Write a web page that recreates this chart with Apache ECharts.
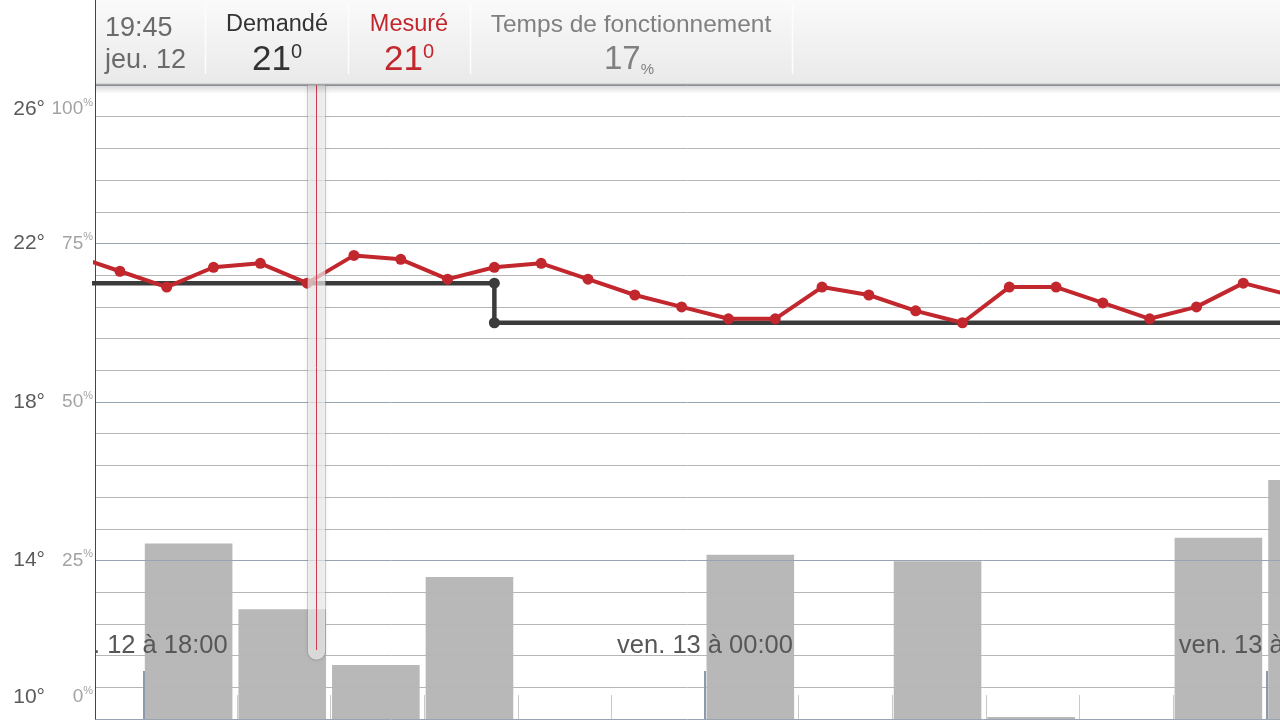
<!DOCTYPE html>
<html><head><meta charset="utf-8">
<script src="https://cdn.jsdelivr.net/npm/echarts@6/dist/echarts.min.js"></script>
<style>html,body{margin:0;padding:0;background:#fff}#c{width:1280px;height:720px}</style>
</head><body><div id="c"></div>
<script>
// Hours counted from jeu. 12 at 00:00
const measuredHours = [17.25,17.75,18.25,18.75,19.25,19.75,20.25,20.75,21.25,21.75,22.25,22.75,23.25,23.75,24.25,24.75,25.25,25.75,26.25,26.75,27.25,27.75,28.25,28.75,29.25,29.75,30.25];
const measuredTemp = [21.7,21.3,20.9,21.4,21.5,21.0,21.7,21.6,21.1,21.4,21.5,21.1,20.7,20.4,20.1,20.1,20.9,20.7,20.3,20.0,20.9,20.9,20.5,20.1,20.4,21.0,20.7];
const setpointHours = [17, 21.75, 21.75, 31];
const setpointTemp = [21, 21, 20, 20];
const runtimeHours = [17,18,19,20,21,22,23,24,25,26,27,28,29,30];
const runtimePct = [0,27.7,17.3,8.5,22.4,0,0,25.9,0,24.9,0.3,0,28.6,37.7];
const hourTicks = [18,19,20,21,22,23,24,25,26,27,28,29,30];
const labelHours = [18,24,30];
const labelTexts = ['jeu. 12 à 18:00','ven. 13 à 00:00','ven. 13 à 06:00'];
const tempTicks = [10,14,18,22,26];
const pctTicks = [0,25,50,75,100];
const cursorHour = 19.84;
const header = {time:'19:45', day:'jeu. 12', reqLabel:'Demandé', req:'21', measLabel:'Mesuré', meas:'21', runLabel:'Temps de fonctionnement', run:'17'};

const FONT = '"Liberation Sans", Arial, sans-serif';
const RED = '#c1272d';
const xMin = 17.484, xMax = 30.142;

const chart = echarts.init(document.getElementById('c'), null, {renderer:'canvas'});

// keep the end labels inside the visible plot: top one pushed down, bottom one pushed up
function shiftLabel(str, v, lo, hi){
  if (v === hi) return '\n\n' + str;
  if (v === lo) return str + '\n{g|}';
  return str;
}

const option = {
  animation: false,
  backgroundColor: '#fff',
  textStyle: {fontFamily: FONT},
  grid: {left: 95, right: 0, top: 85, bottom: 1, containLabel: false, outerBoundsMode: 'none'},
  xAxis: [{
    type: 'value', min: xMin, max: xMax, z: 4,
    axisLine: {show: false}, splitLine: {show: false},
    axisTick: {show: true, inside: true, length: 24, customValues: hourTicks, lineStyle: {color: '#c9c9c9', width: 1}},
    axisLabel: {show: true, inside: true, margin: 60, customValues: labelHours, fontFamily: FONT, fontSize: 25.5, color: '#575757',
      formatter: v => labelTexts[labelHours.indexOf(v)] || ''}
  },{
    type: 'value', min: xMin, max: xMax, z: 4, position: 'bottom',
    axisLine: {show: false}, splitLine: {show: false},
    axisTick: {show: true, inside: true, length: 48, customValues: labelHours, lineStyle: {color: '#8b9bab', width: 2}},
    axisLabel: {show: false}
  }],
  yAxis: [{
    type: 'value', min: 10, max: 26, position: 'left', z: 3,
    axisLine: {show: false}, axisTick: {show: false}, splitLine: {show: false},
    axisLabel: {customValues: tempTicks, margin: 50, align: 'right', lineHeight: 24, fontFamily: FONT,
      formatter: v => shiftLabel('{t|' + v + '°}', v, 10, 26),
      rich: {t: {fontSize: 21, color: '#5a5a5a', lineHeight: 24, fontFamily: FONT}, g: {lineHeight: 44, fontSize: 10}}}
  },{
    type: 'value', min: 0, max: 100, interval: 5, position: 'left', z: 3,
    axisLine: {show: true, lineStyle: {color: '#444', width: 1}},
    axisTick: {show: false},
    splitLine: {show: true, lineStyle: {color: ['#97a5b2','#b6b6b6','#b6b6b6','#b6b6b6','#b6b6b6'], width: 1}},
    axisLabel: {customValues: pctTicks, margin: 2, align: 'right', lineHeight: 24, fontFamily: FONT,
      formatter: v => shiftLabel('{p|' + v + '}{s|%}', v, 0, 100),
      rich: {p: {fontSize: 19, color: '#a3a3a3', lineHeight: 24, fontFamily: FONT},
             s: {fontSize: 11, color: '#a3a3a3', lineHeight: 15, verticalAlign: 'top', fontFamily: FONT},
             g: {lineHeight: 44, fontSize: 10}}}
  }],
  series: [{
    type: 'custom', xAxisIndex: 0, yAxisIndex: 1, z: 2,
    data: runtimeHours.map((h, i) => [h, runtimePct[i]]),
    encode: {x: 0, y: 1},
    renderItem: function(params, api){
      const h = api.value(0), v = api.value(1);
      const p0 = api.coord([h, 0]);
      const p1 = api.coord([h + 1, v]);
      const x0 = p0[0] + 1.5, x1 = p1[0] - 4.5;
      return {type: 'rect', shape: {x: x0, y: p1[1], width: x1 - x0, height: p0[1] - p1[1]},
        style: {fill: '#b8b8b8'}};
    }
  },{
    type: 'line', xAxisIndex: 0, yAxisIndex: 0, z: 6,
    data: setpointHours.map((h, i) => ({value: [h, setpointTemp[i]], symbol: (i === 0 || i === setpointHours.length - 1) ? 'none' : 'circle'})),
    symbolSize: 11, showSymbol: true,
    lineStyle: {color: '#3b3b3b', width: 4.5},
    itemStyle: {color: '#3b3b3b'}
  },{
    type: 'line', xAxisIndex: 0, yAxisIndex: 0, z: 7,
    data: measuredHours.map((h, i) => [h, measuredTemp[i]]),
    symbol: 'circle', symbolSize: 11, showSymbol: true,
    lineStyle: {color: RED, width: 4},
    itemStyle: {color: RED}
  }]
};
chart.setOption(option);

const cx = Math.round(chart.convertToPixel({xAxisIndex: 0}, cursorHour)) + 0.5;

const H = 100;
const graphic = [
  // cover for the part of the first date label that falls left of the plot
  {type: 'rect', z: 40, shape: {x: 0, y: 626, width: 94.5, height: 40}, style: {fill: '#fff'}},
  // cursor
  {type: 'rect', z: 50, shape: {x: cx - 9, y: 70, width: 18, height: 590, r: 9},
    style: {fill: 'rgba(238,238,238,0.7)', stroke: 'rgba(0,0,0,0.16)', lineWidth: 1, shadowBlur: 4, shadowColor: 'rgba(0,0,0,0.14)'}},
  {type: 'line', z: 51, shape: {x1: cx, y1: 85, x2: cx, y2: 650}, style: {stroke: '#cf3a4c', lineWidth: 1}},
  // header
  {type: 'rect', z: H, shape: {x: 95, y: 0, width: 1185, height: 85},
    style: {fill: new echarts.graphic.LinearGradient(0, 0, 0, 1, [{offset: 0, color: '#fafafa'}, {offset: 1, color: '#e9e9e9'}])}},
  {type: 'rect', z: H, shape: {x: 95, y: 85, width: 1185, height: 9},
    style: {fill: new echarts.graphic.LinearGradient(0, 0, 0, 1, [{offset: 0, color: 'rgba(0,0,0,0.16)'}, {offset: 1, color: 'rgba(0,0,0,0)'}])}},
  {type: 'line', z: H, shape: {x1: 95, y1: 84.5, x2: 1280, y2: 84.5}, style: {stroke: '#a3a3a3', lineWidth: 1.5}},
  {type: 'line', z: H, shape: {x1: 95.5, y1: 0, x2: 95.5, y2: 86}, style: {stroke: '#444', lineWidth: 1}},
  ...[205, 348, 470, 792].map(x => ({type: 'line', z: H, shape: {x1: x + 0.5, y1: 4, x2: x + 0.5, y2: 74}, style: {stroke: '#fdfdfd', lineWidth: 1.5}})),
  {type: 'text', z: H + 1, style: {x: 105, y: 29, text: header.time, font: '27px ' + FONT, fill: '#6a6a6a', align: 'left', verticalAlign: 'middle'}},
  {type: 'text', z: H + 1, style: {x: 105, y: 61, text: header.day, font: '27px ' + FONT, fill: '#6a6a6a', align: 'left', verticalAlign: 'middle'}},
  {type: 'text', z: H + 1, style: {x: 277, y: 25, text: header.reqLabel, font: '23.5px ' + FONT, fill: '#333', align: 'center', verticalAlign: 'middle'}},
  {type: 'text', z: H + 1, style: {x: 277, y: 60, text: '{a|' + header.req + '}{b|0}', align: 'center', verticalAlign: 'middle',
    rich: {a: {fontSize: 35, fontFamily: FONT, fill: '#333', lineHeight: 36}, b: {fontSize: 20, fontFamily: FONT, fill: '#333', lineHeight: 22, verticalAlign: 'top'}}}},
  {type: 'text', z: H + 1, style: {x: 409, y: 25, text: header.measLabel, font: '23.5px ' + FONT, fill: RED, align: 'center', verticalAlign: 'middle'}},
  {type: 'text', z: H + 1, style: {x: 409, y: 60, text: '{a|' + header.meas + '}{b|0}', align: 'center', verticalAlign: 'middle',
    rich: {a: {fontSize: 35, fontFamily: FONT, fill: RED, lineHeight: 36}, b: {fontSize: 20, fontFamily: FONT, fill: RED, lineHeight: 22, verticalAlign: 'top'}}}},
  {type: 'text', z: H + 1, style: {x: 631, y: 25, text: header.runLabel, font: '24.5px ' + FONT, fill: '#808080', align: 'center', verticalAlign: 'middle'}},
  {type: 'text', z: H + 1, style: {x: 629, y: 60, text: '{a|' + header.run + '}{b|%}', align: 'center', verticalAlign: 'middle',
    rich: {a: {fontSize: 33, fontFamily: FONT, fill: '#808080', lineHeight: 34}, b: {fontSize: 15, fontFamily: FONT, fill: '#808080', lineHeight: 15, verticalAlign: 'bottom'}}}}
];
chart.setOption({graphic: graphic});
</script></body></html>
